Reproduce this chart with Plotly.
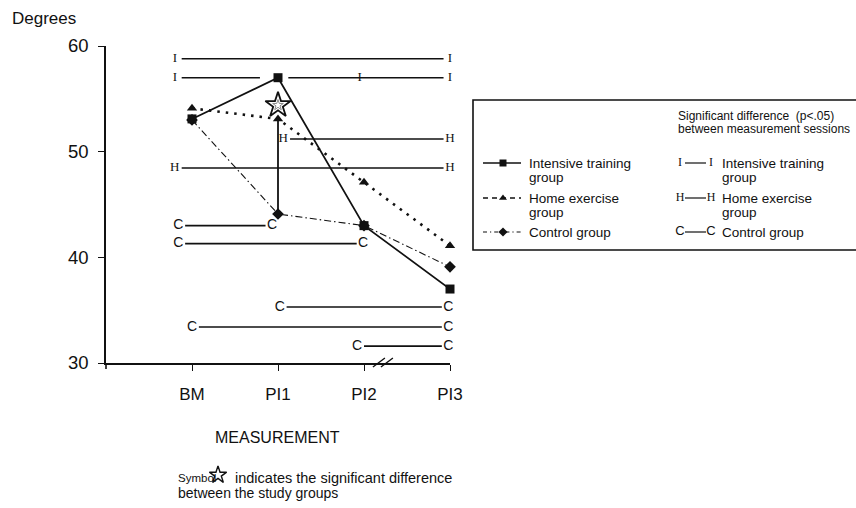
import plotly.graph_objects as go

# ---- data -------------------------------------------------------------
categories = ["BM", "PI1", "PI2", "PI3"]
x_pos = [1, 2, 3, 4]
intensive = [53.1, 57.0, 43.0, 37.0]
home = [54.1, 53.1, 47.1, 41.1]
control = [53.0, 44.1, 43.0, 39.1]
y_ticks = [30, 40, 50, 60]

# significance brackets between measurement sessions
sig_groups = ["I", "I", "H", "H", "C", "C", "C", "C", "C"]
sig_levels = [58.8, 57.0, 51.2, 48.45, 43.0, 41.3, 35.3, 33.4, 31.6]
sig_left = [0.80, 0.80, 2.06, 0.80, 0.84, 0.84, 2.02, 1.00, 2.92]
sig_right = [4.0, 4.0, 4.0, 4.0, 1.93, 2.99, 3.98, 3.98, 3.98]
# extra "I" mark on the second intensive bracket, and the opening around PI1 marker
sig_mid_x = [None, 2.95, None, None, None, None, None, None, None]
sig_break = [None, (1.79, 2.12), None, None, None, None, None, None, None]

# between-group difference at PI1 (home vs control) and its star
group_diff_x = 2
group_diff_star = 54.4

# ---- layout geometry (pixels) ----------------------------------------
W, H = 856, 508
PL, PR, PT, PB = 106, 450, 46, 363
XMIN, XMAX, YMIN, YMAX = 0, 4, 30, 60

SANS = "Liberation Sans, Arial, sans-serif"
SERIF = "Liberation Serif, Times New Roman, serif"
BLACK = "#111111"


def px_x(v):
    return PL + (v - XMIN) / (XMAX - XMIN) * (PR - PL)


fig = go.Figure()

# ---- significance brackets -------------------------------------------
for g, lvl, xl, xr, xm, br in zip(sig_groups, sig_levels, sig_left, sig_right,
                                  sig_mid_x, sig_break):
    a, b = xl + 0.08, xr - 0.075
    if br is None:
        xs, ys = [a, b], [lvl, lvl]
    else:
        xs, ys = [a, br[0], None, br[1], b], [lvl, lvl, None, lvl, lvl]
    fig.add_trace(go.Scatter(x=xs, y=ys, mode="lines",
                             line=dict(color=BLACK, width=1.6),
                             hoverinfo="skip", showlegend=False))
    tx = [xl, xr] + ([xm] if xm is not None else [])
    fnt = dict(family=SERIF, size=13, color=BLACK) if g in ("I", "H") else \
        dict(family=SANS, size=14, color=BLACK)
    fig.add_trace(go.Scatter(x=tx, y=[lvl] * len(tx), mode="text",
                             text=[g] * len(tx), textposition="middle center",
                             textfont=fnt, cliponaxis=False,
                             hoverinfo="skip", showlegend=False))

# ---- group comparison line at PI1 -----------------------------------
i1 = x_pos.index(group_diff_x)
fig.add_trace(go.Scatter(x=[group_diff_x, group_diff_x],
                         y=[home[i1], control[i1]], mode="lines",
                         line=dict(color=BLACK, width=1.8),
                         hoverinfo="skip", showlegend=False))

# ---- the three groups ------------------------------------------------
fig.add_trace(go.Scatter(x=x_pos, y=control, mode="lines+markers",
                         line=dict(color=BLACK, width=1.1, dash="7px,3px,1.5px,3px"),
                         marker=dict(symbol="diamond", size=9, color=BLACK),
                         cliponaxis=False, showlegend=False))
fig.add_trace(go.Scatter(x=x_pos, y=home, mode="lines+markers",
                         line=dict(color=BLACK, width=2.6, dash="2.5px,6px"),
                         marker=dict(symbol="triangle-up", size=9, color=BLACK),
                         cliponaxis=False, showlegend=False))
fig.add_trace(go.Scatter(x=x_pos, y=intensive, mode="lines+markers",
                         line=dict(color=BLACK, width=1.7),
                         marker=dict(symbol="square", size=9, color=BLACK),
                         cliponaxis=False, showlegend=False))

# star marking the between-group difference
fig.add_trace(go.Scatter(x=[group_diff_x], y=[group_diff_star], mode="markers",
                         marker=dict(symbol="star", size=19, color="white",
                                     line=dict(color=BLACK, width=1.8)),
                         cliponaxis=False, hoverinfo="skip", showlegend=False))
fig.add_trace(go.Scatter(x=[group_diff_x], y=[group_diff_star], mode="markers",
                         marker=dict(symbol="star-open", size=8, color="#888888",
                                     line=dict(color="#888888", width=1)),
                         cliponaxis=False, hoverinfo="skip", showlegend=False))

# ---- legend box drawn on a full-figure pixel overlay ---------------
def ov(xs, ys, **kw):
    fig.add_trace(go.Scatter(x=xs, y=ys, xaxis="x2", yaxis="y2",
                             hoverinfo="skip", showlegend=False, **kw))


LEG_Y = [163, 198, 232]
LINE_STEP = 14
sample_dash = ["solid", "5px,4px", "4px,3px,1.2px,3px"]
sample_sym = ["square", "triangle-up", "diamond"]
sample_w = [1.7, 1.4, 1.1]
for yy, d, s, w in zip(LEG_Y, sample_dash, sample_sym, sample_w):
    ov([483, 521], [yy, yy], mode="lines", line=dict(color=BLACK, width=w, dash=d))
    ov([503], [yy], mode="markers",
       marker=dict(symbol=s, size=7, color=BLACK))

# right column bracket samples
for yy, g in zip(LEG_Y, ["I", "H", "C"]):
    ov([685, 706], [yy, yy], mode="lines", line=dict(color=BLACK, width=1.2))
    fnt = dict(family=SERIF, size=12, color=BLACK) if g != "C" else \
        dict(family=SANS, size=13, color=BLACK)
    ov([680, 711], [yy, yy], mode="text", text=[g, g],
       textposition="middle center", textfont=fnt)

# note star
ov([218], [475], mode="markers",
   marker=dict(symbol="star", size=13, color="white", line=dict(color=BLACK, width=1.4)))

shapes = [
    dict(type="rect", xref="x2", yref="y2", x0=473, x1=880, y0=100, y1=250,
         line=dict(color=BLACK, width=1.6), fillcolor="rgba(0,0,0,0)"),
    # y-axis stub below the origin
    dict(type="line", xref="x2", yref="y2", x0=PL, x1=PL, y0=PB, y1=PB + 6,
         line=dict(color=BLACK, width=1.6)),
]
# axis break between PI2 and PI3
bx = px_x(3.22)
for off in (-4, 4):
    shapes.append(dict(type="line", xref="x2", yref="y2",
                       x0=bx + off - 6, x1=bx + off + 6, y0=PB + 4, y1=PB - 5,
                       line=dict(color=BLACK, width=1.4)))


def txt(t, x, y, size, anchor="left"):
    return dict(text=t, xref="x2", yref="y2", x=x, y=y, xanchor=anchor,
                yanchor="middle", showarrow=False,
                font=dict(family=SANS, size=size, color=BLACK))


annotations = [
    txt("Degrees", 10, 18, 17),
    txt("MEASUREMENT", 277, 437, 16, "center"),
    txt("Symbol", 176, 478, 11.5),
    txt("indicates the significant difference", 233, 478, 14.5),
    txt("between the study groups", 176, 493, 14),
    txt("Significant difference  (p<.05)", 676, 116, 12),
    txt("between measurement sessions", 676, 129, 12),
]
leg_lines = [["Intensive training", "group"], ["Home exercise", "group"], ["Control group"]]
for yy, lines in zip(LEG_Y, leg_lines):
    for k, t in enumerate(lines):
        for xx in (527, 720):
            annotations.append(txt(t, xx, yy + k * LINE_STEP, 13.5))

fig.update_layout(
    width=W, height=H,
    margin=dict(l=0, r=0, t=0, b=0),
    paper_bgcolor="white", plot_bgcolor="rgba(0,0,0,0)",
    showlegend=False,
    shapes=shapes, annotations=annotations,
    xaxis=dict(domain=[PL / W, PR / W], range=[XMIN, XMAX],
               tickvals=x_pos, ticktext=categories,
               showline=True, linecolor=BLACK, linewidth=1.6,
               ticks="outside", ticklen=6, tickwidth=1.4, tickcolor=BLACK,
               ticklabelstandoff=9,
               showgrid=False, zeroline=False, automargin=False,
               tickfont=dict(family=SANS, size=17, color=BLACK)),
    yaxis=dict(domain=[1 - PB / H, 1 - PT / H], range=[YMIN, YMAX],
               tickvals=y_ticks, showline=True, linecolor=BLACK, linewidth=1.6,
               ticks="outside", ticklen=6, tickwidth=1.4, tickcolor=BLACK,
               ticklabelstandoff=6,
               showgrid=False, zeroline=False, automargin=False,
               tickfont=dict(family=SANS, size=18.5, color=BLACK)),
    xaxis2=dict(domain=[0, 1], range=[0, W], visible=False, anchor="y2",
                fixedrange=True),
    yaxis2=dict(domain=[0, 1], range=[H, 0], visible=False, anchor="x2",
                fixedrange=True),
)

fig.write_html("out.html")
